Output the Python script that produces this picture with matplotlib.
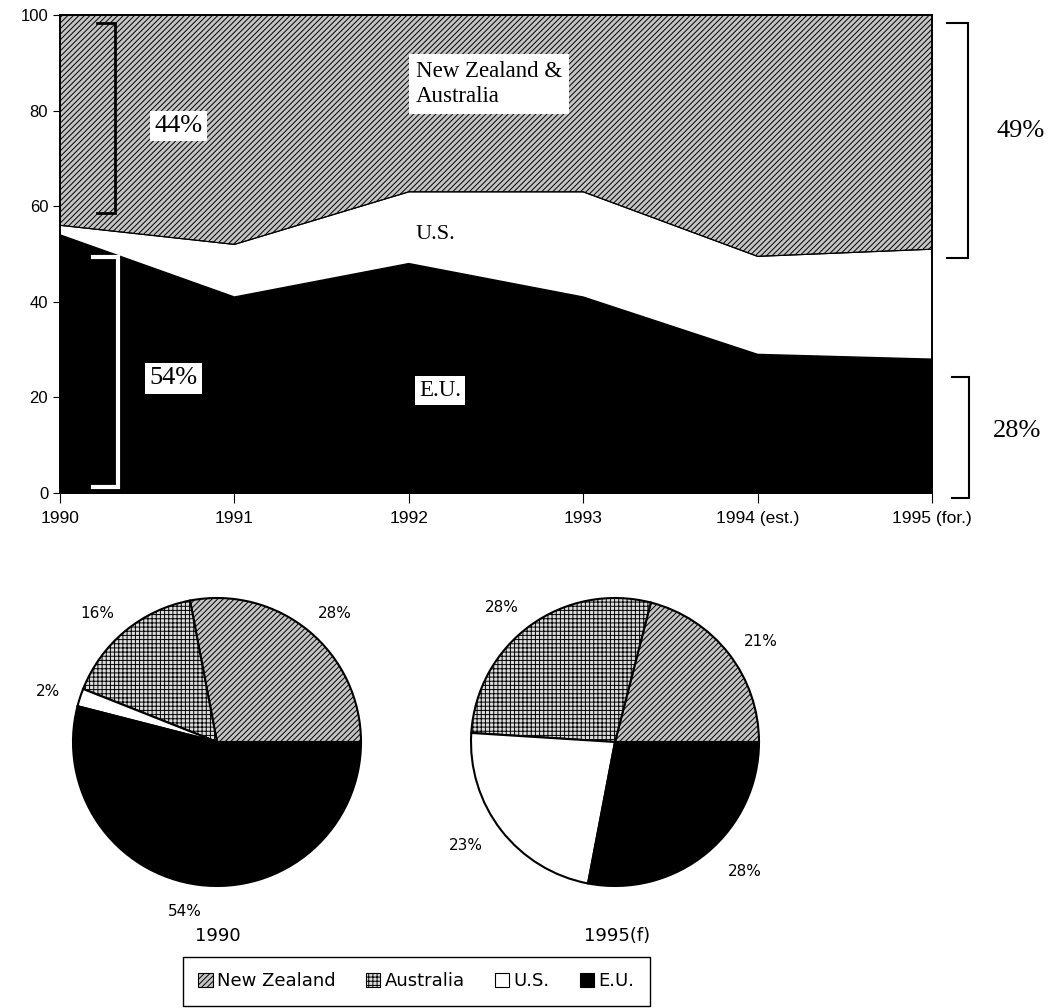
# %%
# Imports

import numpy as np
import matplotlib
matplotlib.use('Agg')
import matplotlib.pyplot as plt
from matplotlib.patches import Patch


# %%
# Data

years = [1990, 1991, 1992, 1993, 1994, 1995]
year_labels = ['1990', '1991', '1992', '1993', '1994 (est.)', '1995 (for.)']
eu = [54, 41, 48, 41, 29, 28]
us = [2, 11, 15, 22, 20.5, 23]
nz_aus = [44, 48, 37, 37, 50.5, 49]

pie_names = ['New Zealand', 'Australia', 'U.S.', 'E.U.']
pie_1990 = [28, 16, 2, 54]
pie_1995 = [21, 28, 23, 28]
pie_titles = ['1990', '1995(f)']


# %%
# Styles

W, H = 1059, 1008
plt.rcParams['font.family'] = ['Liberation Sans', 'DejaVu Sans']
plt.rcParams['hatch.linewidth'] = 0.7

NZ_FACE, NZ_HATCH = '#c4c4c4', '//////'
AU_FACE, AU_HATCH = '#dcdcdc', '++++'
pie_colors = [NZ_FACE, AU_FACE, 'white', 'black']
pie_hatches = [NZ_HATCH, AU_HATCH, '', '']
SERIF = 'Liberation Serif'
PIE_FONT = 'DejaVu Sans'

fig = plt.figure(figsize=(W / 100, H / 100), dpi=100)


# %%
# Pies drawn on a full-figure overlay in pixel units (y flipped)

pax = fig.add_axes([0, 0, 1, 1])

def P(x, y):
    return x, H - y

pies = [
    (pie_1990, (217, 742), [(335, 613), (97, 613), (48, 691), (185, 911)], (218, 936)),
    (pie_1995, (615, 742), [(761, 642), (502, 608), (466, 845), (745, 871)], (617, 936)),
]
for (vals, c, lab_pos, title_pos), title in zip(pies, pie_titles):
    pax.pie(vals, colors=pie_colors, hatch=pie_hatches, startangle=0, counterclock=True,
            center=P(*c), radius=144,
            wedgeprops=dict(edgecolor='black', linewidth=1.5))
    for v, pos in zip(vals, lab_pos):
        pax.text(*P(*pos), f'{v}%', ha='center', va='center', fontsize=11, family=PIE_FONT)
    pax.text(*P(*title_pos), title, ha='center', va='center', fontsize=13, family=PIE_FONT)

pax.set_xlim(0, W)
pax.set_ylim(0, H)
pax.set_aspect('equal')
pax.axis('off')

handles = [Patch(facecolor=f, edgecolor='black', hatch=h, linewidth=0.8)
           for f, h in zip(pie_colors, pie_hatches)]
fig.legend(handles, pie_names, ncol=4, loc='upper left', mode='expand',
           bbox_to_anchor=(183 / W, 1 - 1006 / H, 467 / W, 49 / H), borderaxespad=0,
           prop=dict(family=PIE_FONT, size=13), frameon=True, fancybox=False,
           edgecolor='black', framealpha=1, handlelength=0.8, handleheight=0.8,
           handletextpad=0.25, borderpad=0.85)


# %%
# Stacked area chart

ax = fig.add_axes([60 / W, 1 - 493 / H, 872 / W, 478 / H])
eu_a = np.array(eu, dtype=float)
us_top = eu_a + np.array(us)
ax.fill_between(years, 0, eu_a, facecolor='black', edgecolor='black', lw=1)
ax.fill_between(years, eu_a, us_top, facecolor='white', edgecolor='none')
ax.fill_between(years, us_top, us_top + np.array(nz_aus), facecolor=NZ_FACE,
                edgecolor='black', hatch=NZ_HATCH, lw=0.8)
ax.plot(years, eu_a, color='black', lw=1)
ax.plot(years, us_top, color='black', lw=0.8)

ax.set_xlim(1990, 1995)
ax.set_ylim(0, 100)
ax.set_yticks(range(0, 101, 20))
ax.set_xticks(years, year_labels)
ax.tick_params(axis='y', length=5, labelsize=12)
ax.tick_params(axis='x', length=7, labelsize=12.5, pad=6)
for s in ax.spines.values():
    s.set_linewidth(1.4)


def bracket(x0, x1, y0, y1, color='black', lw=1.5):
    ax.plot([x0, x1, x1, x0], [y1, y1, y0, y0], color=color, lw=lw,
            clip_on=False, solid_joinstyle='miter', zorder=5)


box = dict(facecolor='white', edgecolor='none', pad=3)
bracket(1990.21, 1990.315, 58.6, 98.3, 'black', 2)
bracket(1990.19, 1990.33, 1.3, 49.4, 'white', 3)
bracket(1995.086, 1995.206, 49.2, 98.3)
bracket(1995.115, 1995.21, -1, 24.3)

ax.text(1990.68, 76.8, f'{nz_aus[0]:g}%', ha='center', va='center', fontsize=19,
        family=SERIF, bbox=box, zorder=6)
ax.text(1990.65, 24, f'{eu[0]:g}%', ha='center', va='center', fontsize=19,
        family=SERIF, bbox=box, zorder=6)
ax.text(1992.04, 85.5, 'New Zealand &\nAustralia', ha='left', va='center', fontsize=16.5,
        family=SERIF, linespacing=1.25, zorder=6,
        bbox=dict(facecolor='white', edgecolor='none', pad=5))
ax.text(1992.04, 54, 'U.S.', ha='left', va='center', fontsize=16, family=SERIF, zorder=6)
ax.text(1992.06, 21.5, 'E.U.', ha='left', va='center', fontsize=16.5, family=SERIF,
        bbox=box, zorder=6)
ax.text(1995.51, 75.7, f'{nz_aus[-1]:g}%', ha='center', va='center', fontsize=19,
        family=SERIF, clip_on=False)
ax.text(1995.49, 13, f'{eu[-1]:g}%', ha='center', va='center', fontsize=19,
        family=SERIF, clip_on=False)

fig.savefig('out.png', dpi=100)
